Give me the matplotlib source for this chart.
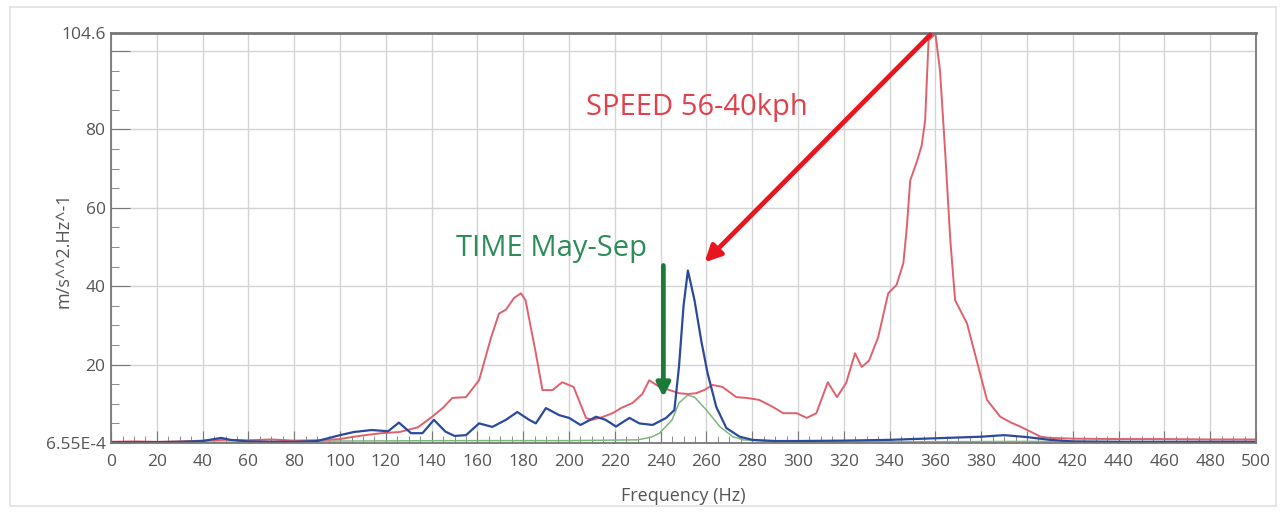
# vibration spectrum: speed vs time comparison
import matplotlib.pyplot as plt
from matplotlib.patches import Rectangle
from matplotlib.ticker import MultipleLocator

plt.rcParams['font.family'] = ['Open Sans', 'DejaVu Sans']

# red trace (speed 56-40 kph)
red_freq = [0, 10, 20, 30, 40, 50, 60, 70, 80, 90, 100, 105, 111, 118, 126, 134, 140, 145, 149, 155,
            160.7, 166, 169.4, 172.4, 176, 179, 181, 185.5, 188.4, 192.8, 197, 202, 207.4, 210, 214,
            219, 223, 227.7, 232, 235, 239.5, 243.9, 248, 252, 255.5, 259, 262.7, 267, 273, 277.5,
            283, 289, 293.5, 299.4, 303.8, 308, 313, 317, 321, 324.9, 327.8, 331, 335, 339.4, 343,
            346, 347.5, 349, 352, 354, 355.5, 357, 360, 362, 364.3, 366.5, 368.6, 373.8, 378, 382.5,
            388.3, 393, 397, 401.5, 405.9, 410, 420, 440, 460, 480, 500]
red_val = [0.3, 0.4, 0.3, 0.4, 0.6, 0.8, 0.7, 0.9, 0.6, 0.7, 1.0, 1.5, 2.0, 2.5, 2.8, 4.0, 6.6, 9.0, 11.5, 11.7,
           16.0, 27.0, 33.0, 34.0, 37.0, 38.2, 36.4, 22.9, 13.5, 13.5, 15.5, 14.3, 6.4, 5.9, 6.5,
           7.6, 9.0, 10.2, 12.5, 16.0, 14.3, 13.5, 12.7, 12.5, 12.7, 13.5, 14.8, 14.3, 11.7, 11.5,
           11.0, 9.2, 7.6, 7.6, 6.4, 7.6, 15.5, 11.7, 15.3, 22.9, 19.4, 21.0, 27.0, 38.2, 40.3,
           45.9, 55.0, 67.0, 72.0, 75.9, 82.3, 102.7, 104.4, 95.0, 73.8, 51.7, 36.4, 30.5, 21.1, 11.0,
           6.7, 5.2, 4.2, 2.9, 1.6, 1.3, 1.1, 1.0, 1.0, 0.9, 0.9]

# blue trace
blue_freq = [0, 10, 20, 30, 40, 45, 48, 52, 60, 70, 80, 90, 100, 106, 113.8, 121, 125.7, 131, 136, 141,
             146, 150, 155, 160.7, 166.5, 172.4, 177.4, 182.6, 185.5, 189.9, 195.7, 200, 205, 211.8,
             216, 220.5, 226.4, 230.7, 236.5, 242.4, 246, 248, 250, 251.9, 254.8, 257.7, 260.5, 264.3,
             268.7, 274.5, 280, 290, 300, 320, 340, 360, 370, 380, 390, 400, 410, 420, 440, 460, 480, 500]
blue_val = [0.2, 0.2, 0.2, 0.3, 0.5, 1.0, 1.3, 0.8, 0.4, 0.3, 0.3, 0.5, 2.0, 2.8, 3.3, 3.0, 5.2, 2.5, 2.5, 5.9,
            2.9, 1.8, 2.0, 5.0, 4.1, 5.9, 7.9, 5.9, 5.0, 8.9, 7.1, 6.4, 4.6, 6.7,
            5.9, 4.2, 6.4, 5.0, 4.6, 6.4, 8.4, 19.4, 35.0, 44.0, 36.4, 26.2, 17.8, 9.2,
            3.8, 1.6, 0.8, 0.5, 0.5, 0.6, 0.8, 1.2, 1.4, 1.6, 2.0, 1.5, 0.8, 0.4, 0.3, 0.3, 0.3, 0.3]

# green trace (time May-Sep)
green_freq = [0, 50, 100, 150, 200, 230, 236, 239.5, 245, 248, 251.8, 254.8, 260, 265.8, 271.5, 276,
              290, 350, 400, 450, 500]
green_val = [0.1, 0.2, 0.5, 0.6, 0.6, 0.8, 1.5, 2.5, 5.9, 10.2, 12.2, 11.7, 8.4, 4.2, 1.6, 0.8,
             0.3, 0.3, 0.4, 0.3, 0.3]

ytick_vals = [0, 20, 40, 60, 80, 100, 104.6]
ytick_labels = ['6.55E-4', '20', '40', '60', '80', '', '104.6']

fig = plt.figure(figsize=(12.81, 5.12), dpi=100)
fig.patches.append(Rectangle((0.008, 0.012), 0.988, 0.974, transform=fig.transFigure,
                             fill=False, edgecolor='#e2e2e2', lw=1.2))
ax = fig.add_axes([0.0867, 0.1348, 0.8938, 0.8007])

ax.plot(green_freq, green_val, color='#7cb87c', lw=1.1)
ax.plot(red_freq, red_val, color='#e0606c', lw=1.4)
ax.plot(blue_freq, blue_val, color='#2b4a9c', lw=1.6)

ax.set_xlim(0, 500)
ax.set_ylim(0, 104.6)
ax.set_xticks(range(0, 501, 20))
ax.xaxis.set_minor_locator(MultipleLocator(5))
ax.set_yticks(ytick_vals)
ax.set_yticklabels(ytick_labels)
ax.yaxis.set_minor_locator(MultipleLocator(5))
ax.grid(True, which='major', color='#d4d4d4', lw=1)
ax.set_axisbelow(True)

ax.tick_params(axis='x', which='major', direction='in', length=9, color='#777', labelsize=12.5,
               labelcolor='#555', pad=8)
ax.tick_params(axis='x', which='minor', direction='in', length=5, color='#777')
ax.tick_params(axis='y', which='major', direction='in', length=14, color='#777', labelsize=12.5,
               labelcolor='#555', pad=4)
ax.tick_params(axis='y', which='minor', direction='in', length=6, color='#777')
for s in ax.spines.values():
    s.set_color('#777')
    s.set_linewidth(1.3)
ax.spines['top'].set_linewidth(2)

ax.set_xlabel('Frequency (Hz)', fontsize=13, color='#555', labelpad=12)
ax.set_ylabel('m/s^^2.Hz^-1', fontsize=13, color='#555')
ax.yaxis.set_label_coords(-0.034, 0.47)

# annotations
ax.annotate('', xy=(259.2, 46.1), xytext=(357.7, 104.1),
            arrowprops=dict(arrowstyle='-|>', color='#e8141e', lw=3.4, mutation_scale=24,
                            shrinkA=0, shrinkB=0))
ax.text(255.7, 85.6, 'SPEED 56-40kph', color='#e2404c', fontsize=21, ha='center', va='center')

ax.annotate('', xy=(241.2, 11.7), xytext=(241.2, 45.3),
            arrowprops=dict(arrowstyle='-|>', color='#1a7a3a', lw=3.4, mutation_scale=20,
                            shrinkA=0, shrinkB=0))
ax.text(192.2, 49.7, 'TIME May-Sep', color='#2e8b5a', fontsize=21, ha='center', va='center')

fig.savefig('out.png', dpi=100)
